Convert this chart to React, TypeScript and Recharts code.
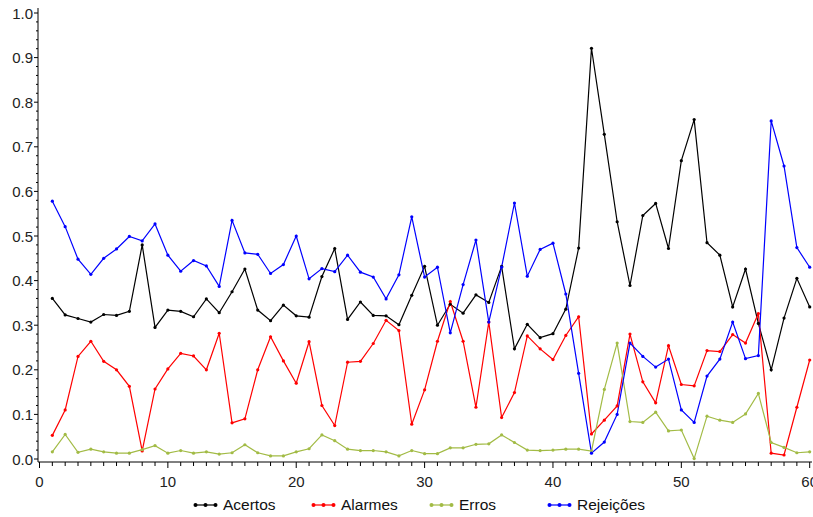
import { LineChart, Line, XAxis, YAxis, Legend } from 'recharts';

const FONT = '"Liberation Sans", Arial, Helvetica, sans-serif';

const categories = [
  1, 2, 3, 4, 5, 6, 7, 8, 9, 10, 11, 12, 13, 14, 15, 16, 17, 18, 19, 20,
  21, 22, 23, 24, 25, 26, 27, 28, 29, 30, 31, 32, 33, 34, 35, 36, 37, 38, 39, 40,
  41, 42, 43, 44, 45, 46, 47, 48, 49, 50, 51, 52, 53, 54, 55, 56, 57, 58, 59, 60
];

const acertos = [
  0.360, 0.323, 0.315, 0.307, 0.324, 0.322, 0.331, 0.480, 0.295, 0.334,
  0.331, 0.319, 0.359, 0.328, 0.375, 0.426, 0.334, 0.310, 0.345, 0.321,
  0.318, 0.409, 0.472, 0.313, 0.352, 0.322, 0.321, 0.301, 0.367, 0.432,
  0.300, 0.347, 0.327, 0.368, 0.351, 0.432, 0.247, 0.302, 0.272, 0.281,
  0.336, 0.473, 0.921, 0.728, 0.532, 0.389, 0.546, 0.573, 0.472, 0.669,
  0.761, 0.485, 0.457, 0.341, 0.426, 0.304, 0.200, 0.316, 0.405, 0.341
];

const alarmes = [
  0.053, 0.110, 0.230, 0.264, 0.219, 0.200, 0.163, 0.018, 0.157, 0.202,
  0.237, 0.231, 0.200, 0.282, 0.081, 0.090, 0.200, 0.274, 0.220, 0.170,
  0.263, 0.120, 0.075, 0.217, 0.219, 0.259, 0.311, 0.288, 0.078, 0.155,
  0.264, 0.353, 0.264, 0.116, 0.307, 0.093, 0.149, 0.276, 0.247, 0.223,
  0.277, 0.319, 0.056, 0.087, 0.119, 0.280, 0.173, 0.126, 0.254, 0.167,
  0.164, 0.243, 0.241, 0.279, 0.260, 0.326, 0.013, 0.009, 0.116, 0.222
];

const erros = [
  0.016, 0.055, 0.015, 0.022, 0.016, 0.013, 0.013, 0.021, 0.030, 0.013,
  0.019, 0.013, 0.016, 0.011, 0.014, 0.032, 0.014, 0.007, 0.007, 0.016,
  0.023, 0.054, 0.041, 0.022, 0.019, 0.019, 0.016, 0.007, 0.019, 0.012,
  0.012, 0.025, 0.025, 0.033, 0.034, 0.054, 0.037, 0.020, 0.019, 0.020,
  0.022, 0.022, 0.018, 0.156, 0.260, 0.084, 0.082, 0.105, 0.063, 0.065,
  0.001, 0.096, 0.087, 0.082, 0.101, 0.147, 0.037, 0.026, 0.014, 0.016
];

const rejeicoes = [
  0.578, 0.521, 0.448, 0.414, 0.450, 0.471, 0.499, 0.489, 0.527, 0.457,
  0.421, 0.445, 0.433, 0.387, 0.535, 0.462, 0.459, 0.416, 0.436, 0.500,
  0.404, 0.427, 0.420, 0.457, 0.419, 0.408, 0.359, 0.413, 0.543, 0.408,
  0.430, 0.283, 0.391, 0.491, 0.307, 0.430, 0.574, 0.410, 0.470, 0.484,
  0.370, 0.192, 0.013, 0.038, 0.100, 0.260, 0.230, 0.206, 0.224, 0.110,
  0.082, 0.186, 0.224, 0.307, 0.225, 0.232, 0.758, 0.657, 0.474, 0.430
];

const xMajorTicks = [0, 10, 20, 30, 40, 50, 60];
const yMajorTicks = [0, 0.1, 0.2, 0.3, 0.4, 0.5, 0.6, 0.7, 0.8, 0.9, 1.0];

const series = [
  { key: 'acertos', name: 'Acertos', color: '#000000' },
  { key: 'alarmes', name: 'Alarmes', color: '#ff0000' },
  { key: 'erros', name: 'Erros', color: '#a2bb45' },
  { key: 'rejeicoes', name: 'Rejeições', color: '#0000ff' }
];

const data = categories.map((x, i) => ({
  x,
  acertos: acertos[i],
  alarmes: alarmes[i],
  erros: erros[i],
  rejeicoes: rejeicoes[i]
}));

// minor ticks: every unit on x, every 0.02 on y
const xTicks = [0, ...categories];
const yTicks: number[] = [];
yMajorTicks.forEach((t, i) => {
  yTicks.push(t);
  if (i < yMajorTicks.length - 1) {
    [0.02, 0.04, 0.06, 0.08].forEach((d) => yTicks.push(+(t + d).toFixed(2)));
  }
});

const isMajorY = (v: number) => yMajorTicks.some((t) => Math.abs(t - v) < 1e-6);
const isMajorX = (v: number) => xMajorTicks.includes(v);

const XTick = (props: any) => {
  const { x, y, payload } = props;
  const major = isMajorX(payload.value);
  return (
    <g>
      <line x1={x} x2={x} y1={y} y2={y + (major ? 6 : 4)} stroke="#000" strokeWidth={1} />
      {major && (
        <text x={x} y={y + 19} textAnchor="middle" dominantBaseline="central" fontSize={15} fontFamily={FONT} fill="#222">
          {payload.value}
        </text>
      )}
    </g>
  );
};

const YTick = (props: any) => {
  const { x, y, payload } = props;
  const major = isMajorY(payload.value);
  return (
    <g>
      <line x1={x} x2={x - (major ? 4 : 2)} y1={y} y2={y} stroke="#000" strokeWidth={1} />
      {major && (
        <text x={x - 5} y={y} textAnchor="end" dominantBaseline="central" fontSize={15} fontFamily={FONT} fill="#222">
          {payload.value.toFixed(1)}
        </text>
      )}
    </g>
  );
};

const renderLegend = () => (
  <div style={{ display: 'flex', fontFamily: FONT, fontSize: 15.5, color: '#111', lineHeight: '18px' }}>
    {series.map((s) => (
      <div key={s.key} style={{ width: 118, display: 'flex', alignItems: 'center' }}>
        <svg width={25} height={8}>
          <line x1={2} x2={23} y1={4} y2={4} stroke={s.color} strokeWidth={1.2} />
          <circle cx={2.5} cy={4} r={2} fill={s.color} />
          <circle cx={12.5} cy={4} r={2} fill={s.color} />
          <circle cx={22.5} cy={4} r={2} fill={s.color} />
        </svg>
        <span style={{ marginLeft: 5 }}>{s.name}</span>
      </div>
    ))}
  </div>
);

export default function App() {
  return (
    <div style={{ position: 'absolute', left: 0, top: 0, width: 813, height: 517, background: '#fff' }}>
      <LineChart width={813} height={517} data={data} margin={{ top: 8, right: 1, left: 0, bottom: 0 }}>
        <XAxis
          dataKey="x"
          type="number"
          domain={[0, 60]}
          ticks={xTicks}
          interval={0}
          tick={<XTick />}
          tickLine={false}
          tickSize={0}
          tickMargin={0}
          height={55}
          padding={{ left: 1.5, right: 2.3 }}
          axisLine={{ stroke: '#000' }}
        />
        <XAxis
          xAxisId="top"
          orientation="top"
          dataKey="x"
          type="number"
          domain={[0, 60]}
          height={0}
          tick={false}
          tickLine={false}
          axisLine={{ stroke: '#000' }}
        />
        <YAxis
          type="number"
          domain={[0, 1]}
          ticks={yTicks}
          interval={0}
          tick={<YTick />}
          tickLine={false}
          tickSize={0}
          tickMargin={0}
          width={38}
          padding={{ top: 5, bottom: 3 }}
          axisLine={{ stroke: '#000' }}
        />
        <YAxis
          yAxisId="right"
          orientation="right"
          type="number"
          domain={[0, 1]}
          width={0}
          tick={false}
          tickLine={false}
          axisLine={{ stroke: '#000' }}
        />
        <Legend
          content={renderLegend}
          layout="horizontal"
          verticalAlign="middle"
          align="center"
          wrapperStyle={{ left: 193, top: 496, width: 480, height: 18 }}
        />
        {series.map((s) => (
          <Line
            key={s.key}
            dataKey={s.key}
            name={s.name}
            stroke={s.color}
            strokeWidth={1.2}
            dot={{ r: 1.6, fill: s.color, stroke: s.color, strokeWidth: 0 }}
            activeDot={false}
            isAnimationActive={false}
          />
        ))}
      </LineChart>
    </div>
  );
}
